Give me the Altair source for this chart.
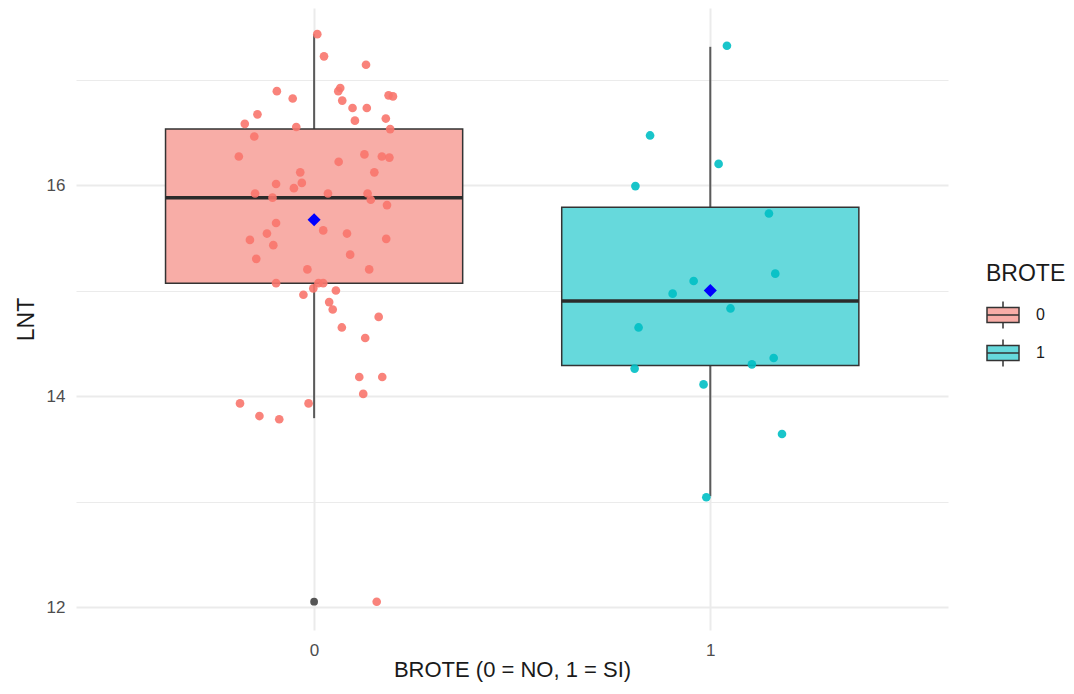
import altair as alt
import pandas as pd

# ---------------- data ----------------
categories = ["0", "1"]
box_q1 = [15.07, 14.29]
box_median = [15.88, 14.90]
box_q3 = [16.53, 15.79]
whisker_low = [13.79, 13.05]
whisker_high = [17.43, 17.31]
group_mean = [15.67, 15.00]

outlier_group = ["0"]
outlier_value = [12.05]

# jittered points of group 0 (horizontal jitter in category units, LNT value)
g0_jitter = [0.008, 0.025, 0.131, -0.094, -0.054, 0.066, 0.061, 0.071, 0.097, 0.133,
             0.188, 0.199, -0.143, -0.175, 0.103, 0.181, -0.045, 0.192, -0.151, -0.190,
             0.062, 0.127, 0.171, 0.190, -0.035, 0.152, -0.096, -0.031, -0.051, -0.149,
             -0.105, 0.035, 0.135, 0.143, 0.184, -0.096, 0.023, 0.083, 0.182, -0.119,
             -0.162, -0.103, -0.146, 0.091, -0.017, 0.139, -0.096, 0.011, 0.023, -0.002,
             0.055, -0.027, 0.038, 0.047, 0.163, 0.070, 0.129, 0.114, 0.172, 0.124,
             -0.187, -0.014, -0.138, -0.088, 0.158]
g0_lnt = [17.43, 17.22, 17.14, 16.89, 16.82, 16.92, 16.89, 16.80, 16.73, 16.73,
          16.85, 16.84, 16.67, 16.58, 16.61, 16.63, 16.55, 16.53, 16.46, 16.27,
          16.22, 16.29, 16.27, 16.26, 16.12, 16.12, 16.01, 16.02, 15.97, 15.92,
          15.88, 15.92, 15.92, 15.86, 15.81, 15.64, 15.57, 15.54, 15.49, 15.54,
          15.48, 15.43, 15.30, 15.34, 15.20, 15.20, 15.07, 15.07, 15.07, 15.02,
          15.00, 14.96, 14.89, 14.82, 14.75, 14.65, 14.55, 14.18, 14.18, 14.02,
          13.93, 13.93, 13.81, 13.78, 12.05]

# jittered points of group 1
g1_jitter = [0.042, -0.152, 0.021, -0.189, 0.148, 0.164, -0.042, -0.095, 0.051, -0.181,
             -0.191, 0.105, 0.160, -0.017, 0.181, -0.010]
g1_lnt = [17.32, 16.47, 16.20, 15.99, 15.73, 15.16, 15.09, 14.97, 14.83, 14.65,
          14.26, 14.30, 14.36, 14.11, 13.64, 13.04]

y_all = [12, 13, 14, 15, 16, 17]
x_ticks = [0, 1]

# ---------------- styling ----------------
RED, TEAL = "#F8766D", "#00BFC4"
BOX_RED, BOX_TEAL = "#F8ADA7", "#66D9DC"
FONT = "Liberation Sans"
XT = "BROTE (0 = NO, 1 = SI)"
YT = "LNT"

box_df = pd.DataFrame({"BROTE": categories, "q1": box_q1, "med": box_median, "q3": box_q3,
                       "lo": whisker_low, "hi": whisker_high, "mean": group_mean})
pts_df = pd.DataFrame({"BROTE": ["0"] * len(g0_lnt) + ["1"] * len(g1_lnt),
                       "jit": g0_jitter + g1_jitter,
                       "LNT": g0_lnt + g1_lnt})
out_df = pd.DataFrame({"BROTE": outlier_group, "LNT": outlier_value})

x_scale = alt.Scale(domain=[-0.601, 1.6], nice=False, zero=False)
y_scale = alt.Scale(domain=[11.782, 17.678], nice=False, zero=False)

x_axis = alt.Axis(values=x_ticks, format="d", grid=True, gridColor="#EBEBEB", gridWidth=2,
                  domain=False, ticks=False, tickSize=0, labelPadding=12, titlePadding=1,
                  labelFontSize=17, titleFontSize=22, labelColor="#4D4D4D", titleColor="#1A1A1A",
                  labelFont=FONT, titleFont=FONT, titleFontWeight="normal")
y_axis = alt.Axis(values=y_all, format="d",
                  labelExpr="indexof([12,14,16], datum.value) >= 0 ? datum.label : ''",
                  grid=True, gridColor="#EBEBEB",
                  gridWidth={"condition": {"test": "datum.value % 2 == 0", "value": 2}, "value": 1},
                  domain=False, ticks=False, tickSize=0, labelPadding=11, titlePadding=8,
                  labelFontSize=17, titleFontSize=23, labelColor="#4D4D4D", titleColor="#1A1A1A",
                  labelFont=FONT, titleFont=FONT, titleFontWeight="normal")

box_symbol = "M-1,-0.47H1V0.47H-1Z M0,-0.47V-0.85 M0,0.47V0.85 M-1,0H1"

base_box = alt.Chart(box_df).transform_calculate(
    pos="toNumber(datum.BROTE)",
    x0="toNumber(datum.BROTE) - 0.375",
    x1="toNumber(datum.BROTE) + 0.375",
)

def X(field):
    return alt.X(field, scale=x_scale, axis=x_axis, title=XT)

def Y(field):
    return alt.Y(field, scale=y_scale, axis=y_axis, title=YT)

whisk_up = base_box.mark_rule(color="#5A5A5A", strokeWidth=2).encode(
    x=X("pos:Q"), y=Y("q3:Q"), y2="hi:Q")
whisk_dn = base_box.mark_rule(color="#5A5A5A", strokeWidth=2).encode(
    x=X("pos:Q"), y=Y("lo:Q"), y2="q1:Q")

box = base_box.mark_rect(stroke="#333333", strokeWidth=1.5).encode(
    x=X("x0:Q"), x2="x1:Q", y=Y("q1:Q"), y2="q3:Q",
    fill=alt.Fill("BROTE:N",
                  scale=alt.Scale(domain=categories, range=[BOX_RED, BOX_TEAL]),
                  legend=alt.Legend(title="BROTE", orient="none", legendX=910, legendY=255,
                                    padding=0, symbolType=box_symbol, symbolSize=1024,
                                    symbolStrokeColor="#333333", symbolStrokeWidth=1.5,
                                    titleFontSize=23, titleFont=FONT, titleFontWeight="normal",
                                    titleColor="#1A1A1A", titlePadding=12,
                                    labelFontSize=16, labelFont=FONT, labelColor="#1A1A1A",
                                    labelOffset=16, rowPadding=4)))

median = base_box.mark_rule(color="#2B2B2B", strokeWidth=3.5).encode(
    x=X("x0:Q"), x2="x1:Q", y=Y("med:Q"))

outl = alt.Chart(out_df).transform_calculate(pos="toNumber(datum.BROTE)").mark_circle(
    color="#555555", size=60, opacity=1).encode(x=X("pos:Q"), y=Y("LNT:Q"))

pts = alt.Chart(pts_df).transform_calculate(xj="toNumber(datum.BROTE) + datum.jit").mark_circle(
    size=75, opacity=0.9).encode(
    x=X("xj:Q"), y=Y("LNT:Q"),
    color=alt.Color("BROTE:N", scale=alt.Scale(domain=categories, range=[RED, TEAL]), legend=None))

mean_pt = base_box.mark_point(shape="diamond", filled=True, color="#0000FF", size=170, opacity=1).encode(
    x=X("pos:Q"), y=Y("mean:Q"))

chart = alt.layer(whisk_up, whisk_dn, box, median, outl, pts, mean_pt).properties(
    width=872, height=622,
    autosize=alt.AutoSizeParams(type="none"),
    padding={"left": 68, "top": 0, "right": 118, "bottom": 56},
    background="white",
).configure_view(stroke=None)

chart.save("out.html", embed_options={"renderer": "svg", "actions": False})
